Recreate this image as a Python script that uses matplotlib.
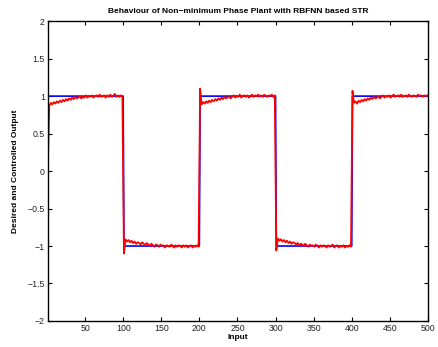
import numpy as np
import matplotlib
matplotlib.use("Agg")
import matplotlib.pyplot as plt

plt.rcParams['font.family'] = ['Liberation Sans', 'DejaVu Sans']

# Desired square wave: level per segment of 100 samples
seg_levels = [1, -1, 1, -1, 1]
seg_len = 100

# Controlled output, sampled every 2 samples within each segment (x = 1,3,5,...)
out_seg1 = [0.00, 0.87, 0.91, 0.89, 0.92, 0.90, 0.93, 0.91, 0.94, 0.92,
            0.95, 0.93, 0.96, 0.94, 0.97, 0.95, 0.98, 0.96, 0.99, 0.97,
            0.98, 1.00, 0.97, 0.99, 0.98, 1.01, 0.98, 1.00, 0.99, 1.01,
            0.98, 1.00, 1.01, 0.99, 1.02, 0.99, 1.00, 1.01, 0.98, 1.01,
            0.99, 1.02, 0.99, 1.00, 1.03, 0.99, 1.01, 0.99, 1.01, 1.00]
out_seg2 = [-1.10, -0.91, -0.94, -0.92, -0.95, -0.93, -0.96, -0.94, -0.97, -0.95,
            -0.96, -0.98, -0.95, -0.97, -0.99, -0.96, -0.98, -1.00, -0.97, -0.99,
            -1.01, -0.98, -0.99, -1.01, -0.98, -1.00, -0.99, -1.02, -0.99, -1.00,
            -1.01, -0.98, -1.00, -1.02, -0.99, -1.01, -0.99, -1.00, -1.02, -0.99,
            -1.01, -0.99, -1.02, -1.00, -0.99, -1.02, -1.00, -1.01, -0.99, -1.01]
out_seg3 = [1.10, 0.89, 0.92, 0.90, 0.93, 0.91, 0.94, 0.92, 0.95, 0.93,
            0.96, 0.94, 0.97, 0.95, 0.98, 0.96, 0.99, 0.97, 0.98, 1.00,
            0.97, 0.99, 1.01, 0.98, 1.00, 0.99, 1.02, 0.98, 1.00, 1.01,
            0.99, 1.01, 0.98, 1.00, 1.02, 0.99, 1.01, 1.00, 1.02, 0.99,
            1.01, 0.99, 1.02, 1.00, 0.99, 1.01, 1.00, 1.02, 0.99, 1.01]
out_seg4 = [-1.06, -0.90, -0.93, -0.91, -0.94, -0.92, -0.95, -0.93, -0.96, -0.94,
            -0.97, -0.95, -0.96, -0.98, -0.96, -0.99, -0.97, -0.98, -1.00, -0.97,
            -0.99, -1.01, -0.98, -1.00, -0.99, -1.01, -0.98, -1.00, -1.02, -0.99,
            -1.01, -0.99, -1.00, -1.02, -0.99, -1.01, -1.00, -0.98, -1.02, -1.00,
            -0.99, -1.02, -1.00, -1.01, -0.99, -1.02, -1.00, -1.01, -0.99, -1.01]
out_seg5 = [1.07, 0.91, 0.93, 0.90, 0.94, 0.92, 0.95, 0.93, 0.96, 0.94,
            0.97, 0.95, 0.98, 0.96, 0.99, 0.97, 0.98, 1.00, 0.97, 0.99,
            1.01, 0.98, 1.00, 0.99, 1.01, 0.98, 1.00, 1.02, 0.99, 1.00,
            1.01, 0.99, 1.02, 0.99, 1.00, 1.01, 0.99, 1.02, 1.00, 0.99,
            1.01, 1.00, 0.99, 1.02, 1.00, 1.01, 0.99, 1.01, 1.00, 1.01]

x_ticks = [50, 100, 150, 200, 250, 300, 350, 400, 450, 500]
y_ticks = [-2, -1.5, -1, -0.5, 0, 0.5, 1, 1.5, 2]

title = "Behaviour of Non\u2212minimum Phase Plant with RBFNN based STR"
xlabel = "Input"
ylabel = "Desired and Controlled Output"

# Build series
x_des = np.arange(1, 501)
y_des = np.repeat(seg_levels, seg_len)
out = np.concatenate([out_seg1, out_seg2, out_seg3, out_seg4, out_seg5])
x_out = np.arange(1, 501, 2)

fig = plt.figure(figsize=(4.38, 3.47), dpi=100)
ax = fig.add_axes([0.109, 0.075, 0.868, 0.864])
ax.plot(x_des, y_des, color='#0000ff', lw=1.2)
ax.plot(x_out, out, color='#ff0000', lw=1.3)

ax.set_xlim(1, 500)
ax.set_ylim(-2, 2)
ax.set_xticks(x_ticks)
ax.set_yticks(y_ticks)
ax.set_yticklabels([('%g' % v).replace('-', '\u2212') for v in y_ticks])
ax.tick_params(direction='in', top=True, right=True, labelsize=6.3, length=3, width=0.8, pad=2,
               labelcolor='#222222')
for s in ax.spines.values():
    s.set_linewidth(1.0)
ax.set_title(title, fontsize=6, fontweight='bold', pad=6)
ax.set_xlabel(xlabel, fontsize=6, fontweight='bold', labelpad=1)
ax.set_ylabel(ylabel, fontsize=6, fontweight='bold', labelpad=6)

fig.savefig("out.png", dpi=100)
